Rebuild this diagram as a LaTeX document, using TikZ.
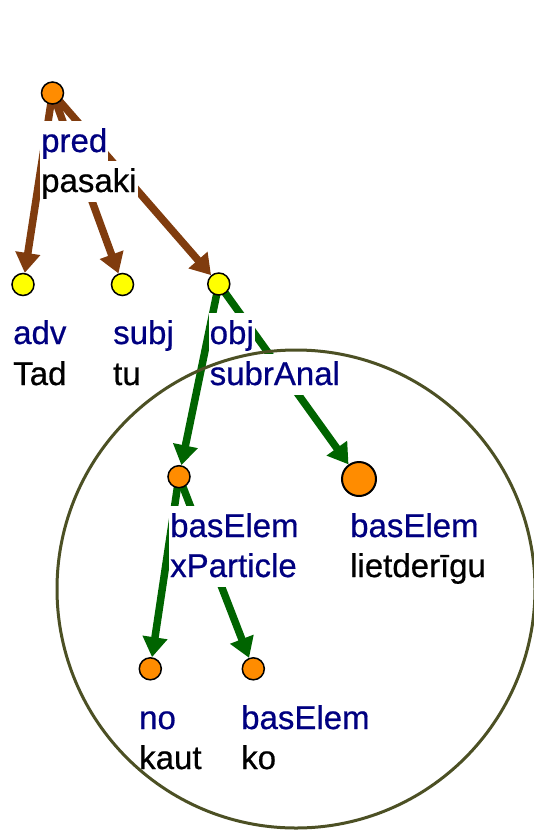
\documentclass[tikz,border=0pt]{standalone}
\usepackage{fontspec}
\setmainfont{Liberation Sans}[FakeBold=0.6]
\usetikzlibrary{arrows.meta}
\definecolor{rolecol}{RGB}{0,0,128}
\definecolor{brownedge}{RGB}{128,60,14}
\definecolor{greenedge}{RGB}{0,100,0}
\definecolor{ringcol}{RGB}{76,80,36}
\definecolor{dotorange}{RGB}{255,140,0}
\definecolor{dotyellow}{RGB}{255,255,0}
\pgfdeclarelayer{edges}
\pgfsetlayers{edges,main}
\tikzset{
  dot/.style={circle, draw=black, line width=1.5pt, minimum size=22pt, inner sep=0pt},
  bigdot/.style={dot, line width=2pt, minimum size=34pt},
  lab/.style={anchor=base west, fill=white, inner sep=0pt, inner xsep=1pt,
    text height=31.5pt, text depth=9.5pt, font=\fontsize{33}{40}\selectfont},
  role/.style={lab, text=rolecol},
  word/.style={lab, text=black},
  tree/.style={line width=7.5pt, -{Triangle[length=20pt,width=24pt]}},
  upper/.style={tree, draw=brownedge},
  lower/.style={tree, draw=greenedge},
  ring/.style={draw=ringcol, line width=3pt}
}
\begin{document}
\begin{tikzpicture}[x=1pt,y=-1pt]
\useasboundingbox (0,0) rectangle (534,831);

% tree nodes
\node[dot, fill=dotorange] (root) at (52.5,93) {};
\node[dot, fill=dotyellow] (adv)  at (23,284.5) {};
\node[dot, fill=dotyellow] (subj) at (122.5,284.5) {};
\node[dot, fill=dotyellow] (obj)  at (218.8,284) {};
\node[dot, fill=dotorange] (xpart) at (179,476.7) {};
\node[bigdot, fill=dotorange] (lietd) at (359,479) {};
\node[dot, fill=dotorange] (no) at (150.3,668.8) {};
\node[dot, fill=dotorange] (ko) at (253.3,668.8) {};

% labels: role above, word form below
\node[role] (rootR) at (40,152) {pred};
\node[word] (rootW) at (40,192) {pasaki};
\node[role] (advR) at (12,344) {adv};
\node[word] (advW) at (12,385) {Tad};
\node[role] (subjR) at (112,344) {subj};
\node[word] (subjW) at (112,385) {tu};
\node[role] (objR) at (208.5,344) {obj};
\node[role] (objW) at (208.5,385) {subrAnal};
\node[role] (xpartR) at (169,537) {basElem};
\node[role] (xpartW) at (169,577) {xParticle};
\node[role] (lietdR) at (349,537) {basElem};
\node[word] (lietdW) at (349,577) {lietderīgu};
\node[role] (noR) at (138,729) {no};
\node[word] (noW) at (138,769) {kaut};
\node[role] (koR) at (240,729) {basElem};
\node[word] (koW) at (240,769) {ko};
\node[lab, fill=none, text=black] (caption) at (29,855) {lietderīgu};

% dependency arrows, kept beneath nodes and labels
\begin{pgfonlayer}{edges}
  \draw[upper] (root.center) -- (adv);
  \draw[upper] (root.center) -- (subj);
  \draw[upper] (root.center) -- (obj);
  \draw[lower] (obj.center) -- (xpart);
  \draw[lower] (obj.center) -- (lietd);
  \draw[lower] (xpart.center) -- (no);
  \draw[lower] (xpart.center) -- (ko);
\end{pgfonlayer}

% grouping ring
\node[ring, circle, minimum size=478pt, inner sep=0pt] (group) at (296,589) {};
\end{tikzpicture}
\end{document}
